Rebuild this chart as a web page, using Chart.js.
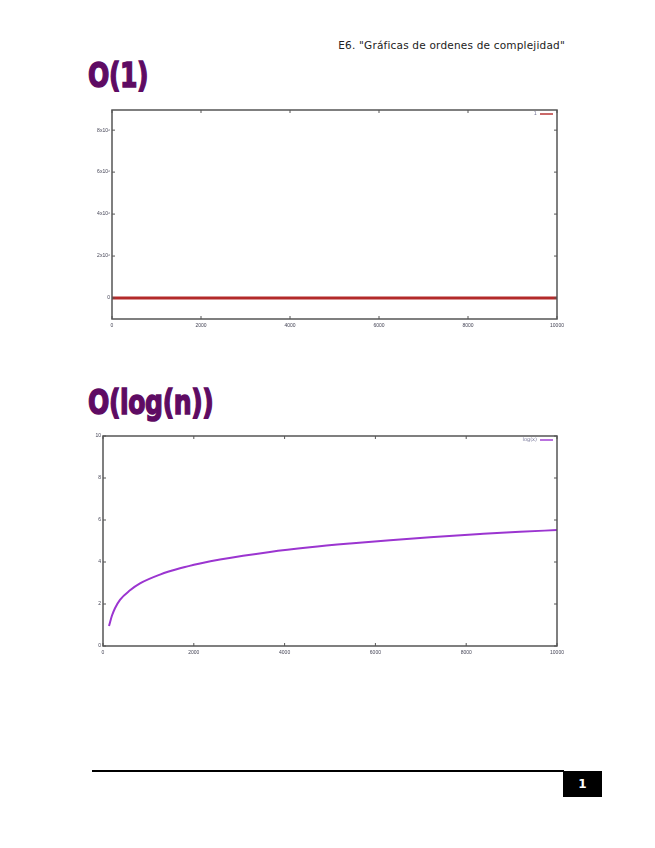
<!DOCTYPE html>
<html>
<head>
<meta charset="utf-8">
<script src="https://cdn.jsdelivr.net/npm/chart.js@4.4.0/dist/chart.umd.min.js"></script>
<style>
  body { margin: 0; background: #fff; width: 655px; height: 848px; position: relative; overflow: hidden; }
  .cabecera { position: absolute; right: 90px; top: 39px; font: 10.5px "DejaVu Sans", sans-serif; color: #222; letter-spacing: 0.2px; }
  .titolo { position: absolute; left: 88px; font: bold 33px "DejaVu Sans", sans-serif; color: #5e0b63; transform: scaleX(0.76); transform-origin: left top; letter-spacing: -0.5px; -webkit-text-stroke: 1.5px #5e0b63; }
  canvas { position: absolute; }
  .linea_piede { position: absolute; left: 92px; top: 770px; width: 472px; height: 2px; background: #000; }
  .pagina { position: absolute; left: 563px; top: 771px; width: 39px; height: 26px; background: #000; color: #fff; font: bold 12px "DejaVu Sans", sans-serif; text-align: center; line-height: 26px; }
</style>
</head>
<body>
<div class="cabecera">E6. "Gráficas de ordenes de complejidad"</div>
<div class="titolo" style="top:56px">O(1)</div>
<canvas id="grafico1" width="490" height="240" style="left:80px; top:100px"></canvas>
<div class="titolo" style="top:383px">O(log(n))</div>
<canvas id="grafico2" width="495" height="240" style="left:75px; top:426px"></canvas>
<div class="linea_piede"></div>
<div class="pagina">1</div>

<script>
// tick dell'asse x (uguali nei due grafici)
var x_tick = [0, 2000, 4000, 6000, 8000, 10000];

// grafico O(1)
var y_tick_1 = [0, 2000000, 4000000, 6000000, 8000000];
var y_etichette_1 = ['0', '2x10⁶', '4x10⁶', '6x10⁶', '8x10⁶'];
var n_costante = [0, 2000, 4000, 6000, 8000, 10000];
var valori_costante = [1, 1, 1, 1, 1, 1];

// grafico O(log(n))
var y_tick_2 = [0, 2, 4, 6, 8, 10];
var n_log = [132, 198, 264, 374, 595, 815, 1256, 1696, 2137, 2577, 3678, 4559, 5441, 6322, 7203, 8304, 9185, 10000];
var valori_log = [0.95, 1.45, 1.8, 2.2, 2.65, 2.98, 3.4, 3.7, 3.93, 4.12, 4.48, 4.7, 4.88, 5.04, 5.18, 5.33, 5.44, 5.52];

// cornice stile gnuplot con tacche verso l'interno e legenda in alto a destra
var cornice = {
  id: 'cornice',
  afterDraw: function(chart){
    var ctx = chart.ctx;
    var a = chart.chartArea;
    ctx.save();
    ctx.strokeStyle = '#555';
    ctx.lineWidth = 1.5;
    ctx.strokeRect(a.left, a.top, a.right - a.left, a.bottom - a.top);
    ctx.lineWidth = 1;
    chart.scales.x.ticks.forEach(function(t){
      var px = chart.scales.x.getPixelForValue(t.value);
      ctx.beginPath();
      ctx.moveTo(px, a.bottom); ctx.lineTo(px, a.bottom - 3);
      ctx.moveTo(px, a.top); ctx.lineTo(px, a.top + 3);
      ctx.stroke();
    });
    chart.scales.y.ticks.forEach(function(t){
      var py = chart.scales.y.getPixelForValue(t.value);
      ctx.beginPath();
      ctx.moveTo(a.left, py); ctx.lineTo(a.left + 3, py);
      ctx.moveTo(a.right, py); ctx.lineTo(a.right - 3, py);
      ctx.stroke();
    });
    // legenda
    var ds = chart.data.datasets[0];
    var ly = a.top + 4;
    ctx.strokeStyle = ds.borderColor;
    ctx.globalAlpha = 0.7;
    ctx.lineWidth = 2;
    ctx.beginPath();
    ctx.moveTo(a.right - 17, ly); ctx.lineTo(a.right - 4, ly);
    ctx.stroke();
    ctx.globalAlpha = 1;
    ctx.fillStyle = '#779';
    ctx.font = '5px "DejaVu Sans"';
    ctx.textAlign = 'right';
    ctx.textBaseline = 'middle';
    ctx.fillText(ds.label, a.right - 20, ly);
    ctx.restore();
  }
};

function punti(xs, ys){
  var p = [];
  for (var i = 0; i < xs.length; i++) {
    p.push({x: xs[i], y: ys[i]});
  }
  return p;
}

function disegna_grafico(id, opz){
  var ctx = document.getElementById(id).getContext('2d');
  return new Chart(ctx, {
    type: 'line',
    data: {
      datasets: [{
        label: opz.etichetta,
        data: opz.dati,
        borderColor: opz.colore,
        borderWidth: opz.spessore,
        pointRadius: 0,
        fill: false,
        cubicInterpolationMode: 'monotone'
      }]
    },
    plugins: [cornice],
    options: {
      responsive: false,
      animation: false,
      layout: { padding: { top: 10, right: 13, left: 0, bottom: 0 } },
      plugins: {
        tooltip: { enabled: false },
        legend: { display: false }
      },
      scales: {
        x: {
          type: 'linear',
          min: 0, max: 10000,
          afterBuildTicks: function(s){ s.ticks = x_tick.map(function(v){ return {value: v}; }); },
          afterFit: function(s){ s.height = opz.altezza_x; },
          grid: { display: false },
          border: { display: false },
          ticks: {
            color: '#445', font: { size: 5 }, padding: -4, maxRotation: 0,
            callback: function(v){ return String(v); }
          }
        },
        y: {
          min: opz.y_min, max: opz.y_max,
          afterBuildTicks: function(s){ s.ticks = opz.y_tick.map(function(v){ return {value: v}; }); },
          afterFit: function(s){ s.width = opz.larghezza_y; },
          grid: { display: false },
          border: { display: false },
          ticks: {
            color: '#445', font: { size: 5 }, padding: -6,
            callback: function(v){
              var i = opz.y_tick.indexOf(v);
              return opz.y_etichette ? opz.y_etichette[i] : String(v);
            }
          }
        }
      }
    }
  });
}

disegna_grafico('grafico1', {
  etichetta: '1',
  dati: punti(n_costante, valori_costante),
  colore: '#b32a2a',
  spessore: 3,
  y_min: -1000000, y_max: 8960000,
  y_tick: y_tick_1,
  y_etichette: y_etichette_1,
  larghezza_y: 32,
  altezza_x: 21
});

disegna_grafico('grafico2', {
  etichetta: 'log(x)',
  dati: punti(n_log, valori_log),
  colore: '#9b35d0',
  spessore: 2,
  y_min: 0, y_max: 10,
  y_tick: y_tick_2,
  larghezza_y: 28,
  altezza_x: 20
});
</script>
</body>
</html>
